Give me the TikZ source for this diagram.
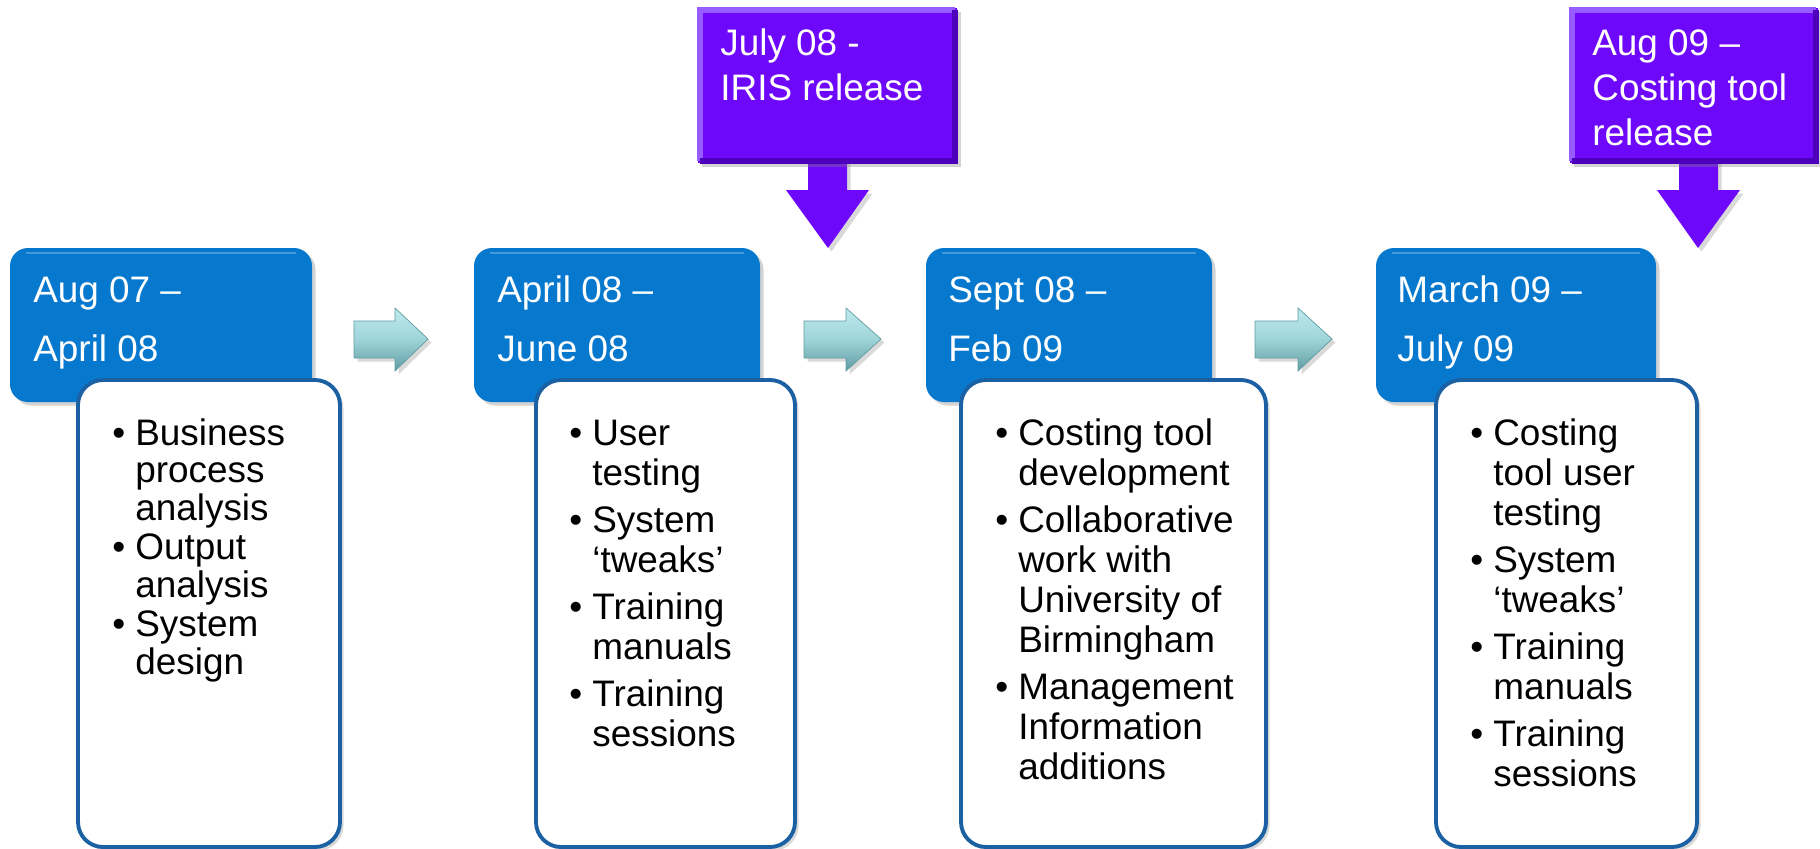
\documentclass[tikz,border=0pt]{standalone}
\usepackage{fontspec}
\setmainfont{Liberation Sans}
\usetikzlibrary{shadows}
\definecolor{periodblue}{RGB}{6,120,206}
\definecolor{periodedge}{RGB}{4,84,150}
\definecolor{taskedge}{RGB}{26,96,162}
\definecolor{releaseviolet}{RGB}{110,8,250}
\definecolor{releaselight}{RGB}{150,92,255}
\definecolor{releasedark}{RGB}{76,0,185}
\definecolor{arrowtop}{RGB}{190,234,238}
\definecolor{arrowmid}{RGB}{158,212,217}
\definecolor{arrowdark}{RGB}{96,156,162}

\begin{document}
\begin{tikzpicture}[x=0.02cm, y=-0.02cm,
    period/.style={fill=periodblue, rounded corners=0.36cm,
      drop shadow={shadow xshift=2pt, shadow yshift=-2pt, opacity=0.35}},
    tasks/.style={fill=white, draw=taskedge, line width=2.2pt, rounded corners=0.5cm,
      drop shadow={shadow xshift=2pt, shadow yshift=-2pt, opacity=0.3}},
    releasebox/.style={fill=releaseviolet,
      drop shadow={shadow xshift=2pt, shadow yshift=-2pt, opacity=0.35}},
    nextarrow/.style={top color=arrowtop, bottom color=arrowdark, middle color=arrowmid,
      draw=arrowdark, line width=0.4pt,
      drop shadow={shadow xshift=2pt, shadow yshift=-2pt, opacity=0.3}},
    droparrow/.style={fill=releaseviolet,
      drop shadow={shadow xshift=2pt, shadow yshift=-2pt, opacity=0.3}},
    datetext/.style={anchor=base west, inner sep=0pt, text=white,
      font=\fontsize{21}{33.6}\selectfont},
    releasetext/.style={anchor=base west, inner sep=0pt, text=white,
      font=\fontsize{21}{25.8}\selectfont},
    itemtext/.style={anchor=base west, inner sep=0pt,
      font=\fontsize{21}{22.8}\selectfont}]
  \useasboundingbox (0,0) rectangle (1820,849);

  % Aug 07 - April 08
  \fill[period] (10,248) rectangle (312,402);
  \draw[white, opacity=0.25, line width=1.5pt] (26,253) -- (296,253);
  \draw[tasks] (78,380) rectangle (340,847);
  \node[datetext] (d1) at (33,302) {\begin{tabular}[t]{@{}l@{}}Aug 07 –\\April 08\end{tabular}};
  \node[itemtext, font=\fontsize{21}{21.3}\selectfont] (t1) at (112,445) {\begin{tabular}[t]{@{}p{0.46cm}@{}l@{}}
    \textbullet & Business\\ & process\\ & analysis\\[1pt]
    \textbullet & Output\\ & analysis\\[1pt]
    \textbullet & System\\ & design
  \end{tabular}};

  % April 08 - June 08
  \fill[period] (474,248) rectangle (760,402);
  \draw[white, opacity=0.25, line width=1.5pt] (490,253) -- (744,253);
  \draw[tasks] (536,380) rectangle (795,847);
  \node[datetext] (d2) at (497,302) {\begin{tabular}[t]{@{}l@{}}April 08 –\\June 08\end{tabular}};
  \node[itemtext] (t2) at (569,445) {\begin{tabular}[t]{@{}p{0.46cm}@{}l@{}}
    \textbullet & User\\ & testing\\[4pt]
    \textbullet & System\\ & ‘tweaks’\\[4pt]
    \textbullet & Training\\ & manuals\\[4pt]
    \textbullet & Training\\ & sessions
  \end{tabular}};

  % Sept 08 - Feb 09
  \fill[period] (926,248) rectangle (1212,402);
  \draw[white, opacity=0.25, line width=1.5pt] (942,253) -- (1196,253);
  \draw[tasks] (961,380) rectangle (1266,847);
  \node[datetext] (d3) at (948,302) {\begin{tabular}[t]{@{}l@{}}Sept 08 –\\Feb 09\end{tabular}};
  \node[itemtext] (t3) at (995,445) {\begin{tabular}[t]{@{}p{0.46cm}@{}l@{}}
    \textbullet & Costing tool\\ & development\\[4pt]
    \textbullet & Collaborative\\ & work with\\ & University of\\ & Birmingham\\[4pt]
    \textbullet & Management\\ & Information\\ & additions
  \end{tabular}};

  % March 09 - July 09
  \fill[period] (1376,248) rectangle (1656,402);
  \draw[white, opacity=0.25, line width=1.5pt] (1392,253) -- (1640,253);
  \draw[tasks] (1436,380) rectangle (1697,847);
  \node[datetext] (d4) at (1397,302) {\begin{tabular}[t]{@{}l@{}}March 09 –\\July 09\end{tabular}};
  \node[itemtext] (t4) at (1470,445) {\begin{tabular}[t]{@{}p{0.46cm}@{}l@{}}
    \textbullet & Costing\\ & tool user\\ & testing\\[4pt]
    \textbullet & System\\ & ‘tweaks’\\[4pt]
    \textbullet & Training\\ & manuals\\[4pt]
    \textbullet & Training\\ & sessions
  \end{tabular}};

  % arrows between the periods
  \shade[nextarrow] (354,321) -- (395,321) -- (395,308) -- (428,339) -- (395,371) -- (395,358) -- (354,358) -- cycle;
  \shade[nextarrow] (804,321) -- (846,321) -- (846,308) -- (881,339) -- (846,371) -- (846,358) -- (804,358) -- cycle;
  \shade[nextarrow] (1255,321) -- (1298,321) -- (1298,308) -- (1332,339) -- (1298,371) -- (1298,358) -- (1255,358) -- cycle;

  % July 08 release
  \fill[droparrow] (808,158) -- (808,190) -- (786,190) -- (828,248) -- (869,190) -- (847,190) -- (847,158) -- cycle;
  \fill[releasebox] (698,8) rectangle (957,163);
  \draw[releaselight, line width=3pt] (700,161) -- (700,10) -- (955,10);
  \draw[releasedark, line width=3pt] (955,10) -- (955,161) -- (700,161);
  \node[releasetext] (r1) at (720,55) {\begin{tabular}[t]{@{}l@{}}July 08 -\\IRIS release\end{tabular}};

  % Aug 09 release
  \fill[droparrow] (1679,158) -- (1679,190) -- (1657,190) -- (1698,248) -- (1740,190) -- (1718,190) -- (1718,158) -- cycle;
  \fill[releasebox] (1570,8) rectangle (1818,163);
  \draw[releaselight, line width=3pt] (1572,161) -- (1572,10) -- (1816,10);
  \draw[releasedark, line width=3pt] (1816,10) -- (1816,161) -- (1572,161);
  \node[releasetext] (r2) at (1592,55) {\begin{tabular}[t]{@{}l@{}}Aug 09 –\\Costing tool\\release\end{tabular}};
\end{tikzpicture}
\end{document}
